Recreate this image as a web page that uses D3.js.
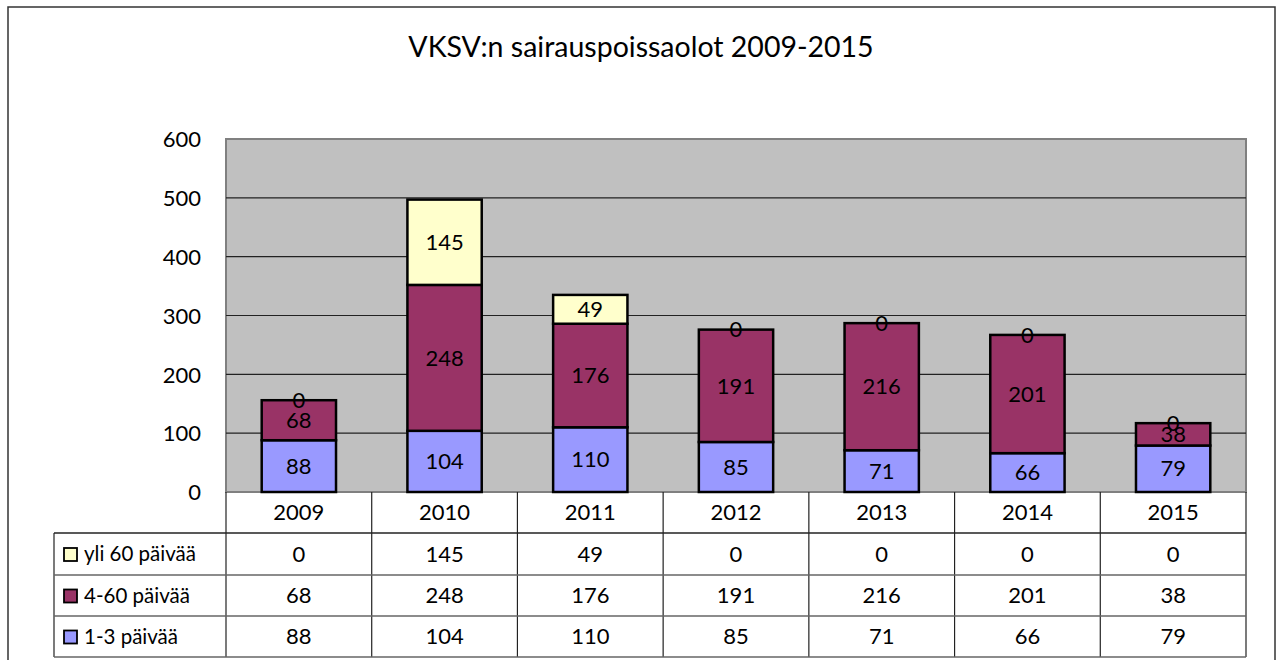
<!DOCTYPE html>
<html><head><meta charset="utf-8">
<script src="https://cdn.jsdelivr.net/npm/d3@7"></script>
<style>body{margin:0;background:#fff}svg{display:block}text{font-family:Lato,"Open Sans",sans-serif;fill:#000}</style>
</head><body>
<svg id="c" width="1281" height="660"></svg>
<script>
const title = "VKSV:n sairauspoissaolot 2009-2015";
const years = ["2009","2010","2011","2012","2013","2014","2015"];
const seriesNames = ["1-3 päivää","4-60 päivää","yli 60 päivää"];
const s13 = [88,104,110,85,71,66,79];
const s460 = [68,248,176,191,216,201,38];
const s60 = [0,145,49,0,0,0,0];
const colors = ["#9999ff","#993366","#ffffcc"];
const yTicks = [0,100,200,300,400,500,600];

const NF = 22;
const svg = d3.select("#c");
const L=226,R=1246,T=139,B=492;
const x = d3.scaleBand().domain(years).range([L,R]).paddingInner(0).paddingOuter(0);
const y = d3.scaleLinear().domain([0,600]).range([B,T]);

svg.append("rect").attr("x",8).attr("y",7).attr("width",1267).attr("height",670).attr("fill","#fff").attr("stroke","#333").attr("stroke-width",1.5);
svg.append("text").attr("x",641).attr("y",57).attr("text-anchor","middle").attr("font-size",28.5).text(title);

svg.append("rect").attr("x",L).attr("y",T).attr("width",R-L).attr("height",B-T).attr("fill","#c0c0c0").attr("stroke","#808080").attr("stroke-width",2);
svg.append("g").selectAll("line").data(yTicks.filter(d=>d>0&&d<600)).join("line")
  .attr("x1",L).attr("x2",R).attr("y1",d=>y(d)).attr("y2",d=>y(d)).attr("stroke","#222").attr("stroke-width",1.2);

const yAxis = svg.append("g").attr("transform",`translate(${L},0)`).call(d3.axisLeft(y).tickValues(yTicks).tickSize(0).tickPadding(25));
yAxis.select(".domain").remove();
yAxis.selectAll("text").attr("font-size",NF).style("font-family","Lato,'Open Sans',sans-serif").attr("dy","0.35em");

const data = years.map((yr,i)=>({year:yr,"1-3 päivää":s13[i],"4-60 päivää":s460[i],"yli 60 päivää":s60[i]}));
const stack = d3.stack().keys(seriesNames)(data);
const bw = x.bandwidth()*0.51;
stack.forEach((layer,li)=>{
  svg.append("g").selectAll("rect").data(layer).join("rect")
    .attr("x",d=>x(d.data.year)+(x.bandwidth()-bw)/2).attr("width",bw)
    .attr("y",d=>y(d[1])).attr("height",d=>y(d[0])-y(d[1]))
    .attr("fill",colors[li]).attr("stroke","#000").attr("stroke-width",2.5);
});
stack.forEach((layer,li)=>{
  svg.append("g").selectAll("text").data(layer).join("text")
    .attr("x",d=>x(d.data.year)+x.bandwidth()/2)
    .attr("y",d=>(y(d[0])+y(d[1]))/2).attr("dy","0.35em")
    .attr("text-anchor","middle").attr("font-size",NF)
    .text(d=>d[1]-d[0]);
});

const rowY = [492,533,575,616,657];
const tl = 54;
const tg = svg.append("g");
tg.selectAll("text.h").data(years).join("text").attr("class","h")
  .attr("x",d=>x(d)+x.bandwidth()/2).attr("y",(rowY[0]+rowY[1])/2).attr("dy","0.35em")
  .attr("text-anchor","middle").attr("font-size",NF).text(d=>d);
tg.selectAll("line.vh").data(years.concat(["end"])).join("line").attr("class","vh")
  .attr("x1",(d,i)=>i<7?x(d):R).attr("x2",(d,i)=>i<7?x(d):R)
  .attr("y1",rowY[0]).attr("y2",rowY[4]).attr("stroke","#222").attr("stroke-width",1.2);
tg.append("line").attr("x1",tl).attr("x2",tl).attr("y1",rowY[1]).attr("y2",rowY[4]).attr("stroke","#222").attr("stroke-width",1.2);
[1,2,3,4].forEach(k=>{
  tg.append("line").attr("x1",tl).attr("x2",R).attr("y1",rowY[k]).attr("y2",rowY[k])
    .attr("stroke",k===1?"#222":"#666").attr("stroke-width",1.4);
});
const rows = [
  {name:seriesNames[2],vals:s60,color:colors[2]},
  {name:seriesNames[1],vals:s460,color:colors[1]},
  {name:seriesNames[0],vals:s13,color:colors[0]}
];
rows.forEach((r,ri)=>{
  const cy=(rowY[ri+1]+rowY[ri+2])/2;
  tg.append("rect").attr("x",64).attr("y",cy-6).attr("width",13).attr("height",13)
    .attr("fill",r.color).attr("stroke","#000").attr("stroke-width",1.8);
  tg.append("text").attr("x",84).attr("y",cy).attr("dy","0.35em").attr("font-size",20.5).text(r.name);
  tg.selectAll(null).data(r.vals).join("text")
    .attr("x",(d,i)=>x(years[i])+x.bandwidth()/2).attr("y",cy).attr("dy","0.35em")
    .attr("text-anchor","middle").attr("font-size",NF).text(d=>d);
});
</script>
</body></html>
